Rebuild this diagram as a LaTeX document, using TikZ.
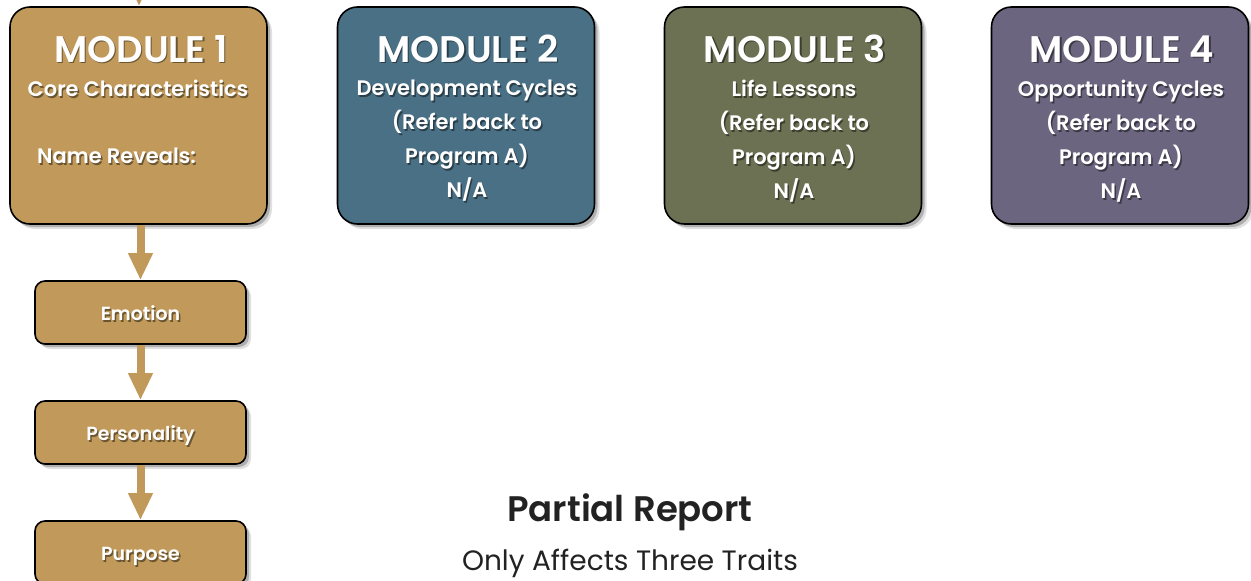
\documentclass[tikz,border=0pt]{standalone}
\usepackage{fontspec}
\IfFontExistsTF{Poppins SemiBold}{\setmainfont{Poppins}[BoldFont={Poppins SemiBold}]}{\setmainfont{Poppins}}
\usetikzlibrary{arrows.meta,shadows}
\definecolor{gold}{HTML}{C19A5B}
\definecolor{mteal}{HTML}{4A7085}
\definecolor{molive}{HTML}{6B7152}
\definecolor{mpurple}{HTML}{6B6580}
\definecolor{dtext}{HTML}{222222}
\colorlet{shc}{black}
\newcommand\tsh[1]{\rlap{\kern1.4pt\raisebox{-1.4pt}{\color{shc}#1}}#1}
\tikzset{
  shad/.style={drop shadow={shadow xshift=3pt,shadow yshift=-3pt,opacity=.22,fill=black},
               drop shadow={shadow xshift=5pt,shadow yshift=-5pt,opacity=.12,fill=black}},
  modbox/.style={draw=black,line width=1.6pt,rounded corners=20pt,minimum width=257pt,minimum height=217pt,inner sep=0pt,shad,fill=#1},
  stepbox/.style={draw=black,line width=1.6pt,rounded corners=10pt,minimum width=211pt,minimum height=63pt,inner sep=0pt,fill=gold,shad,
     text height=16.4pt,text depth=0pt,
     text=white,font=\colorlet{shc}{gold!55!black}\bfseries\fontsize{19}{22}\selectfont},
  modtitle/.style={text=white,font=\colorlet{shc}{#1!55!black}\bfseries\fontsize{37}{40}\selectfont,anchor=base,inner sep=0pt},
  modbody/.style={text=white,font=\colorlet{shc}{#1!55!black}\bfseries\fontsize{21}{34}\selectfont,align=center,anchor=north,inner sep=0pt},
  flow/.style={draw=gold,line width=8pt,-{Triangle[width=23pt,length=27pt]}},
}
\begin{document}
\begin{tikzpicture}[x=1pt,y=-1pt]
\useasboundingbox (0,0) rectangle (1251,581);
% module boxes
\node[modbox=gold]    (m1) at (138.5,115.5) {};
\node[modbox=mteal]   (m2) at (466,115.5) {};
\node[modbox=molive]  (m3) at (793,115.5) {};
\node[modbox=mpurple] (m4) at (1120,115.5) {};
% titles
\node[modtitle=gold]    (t1) at (141,62) {\tsh{MODULE 1}};
\node[modtitle=mteal]   (t2) at (468,62) {\tsh{MODULE 2}};
\node[modtitle=molive]  (t3) at (795,62) {\tsh{MODULE 3}};
\node[modtitle=mpurple] (t4) at (1122,62) {\tsh{MODULE 4}};
% bodies
\node[modbody=gold] (b1) at (138,80) {\tsh{Core Characteristics}};
\node[modbody=gold,anchor=north west] (b1n) at (37,148) {\tsh{Name Reveals:}};
\node[modbody=mteal] (b2) at (467,80) {\tsh{Development Cycles}\\\tsh{(Refer back to}\\\tsh{Program A)}\\\tsh{N/A}};
\node[modbody=molive] (b3) at (794,80) {\tsh{Life Lessons}\\\tsh{(Refer back to}\\\tsh{Program A)}\\\tsh{N/A}};
\node[modbody=mpurple] (b4) at (1121,80) {\tsh{Opportunity Cycles}\\\tsh{(Refer back to}\\\tsh{Program A)}\\\tsh{N/A}};
% steps
\node[stepbox] (emo) at (140.5,312.5) {\tsh{Emotion}};
\node[stepbox] (per) at (140.5,432.5) {\tsh{Personality}};
\node[stepbox] (pur) at (140.5,552.5) {\tsh{Purpose}};
% arrows
\coordinate (top) at (139,-40);
\draw[flow] (top) -- (top |- m1.north);
\draw[flow] (m1.south -| emo.north) -- (emo.north);
\draw[flow] (emo.south) -- (per.north);
\draw[flow] (per.south) -- (pur.north);
% report text
\node[text=dtext,font=\bfseries\fontsize{35.5}{40}\selectfont] (rep) at (630,512.5) {Partial Report};
\node[text=dtext,font=\fontsize{28}{30}\selectfont] (aff) at (630,563) {Only Affects Three Traits};
\end{tikzpicture}
\end{document}
